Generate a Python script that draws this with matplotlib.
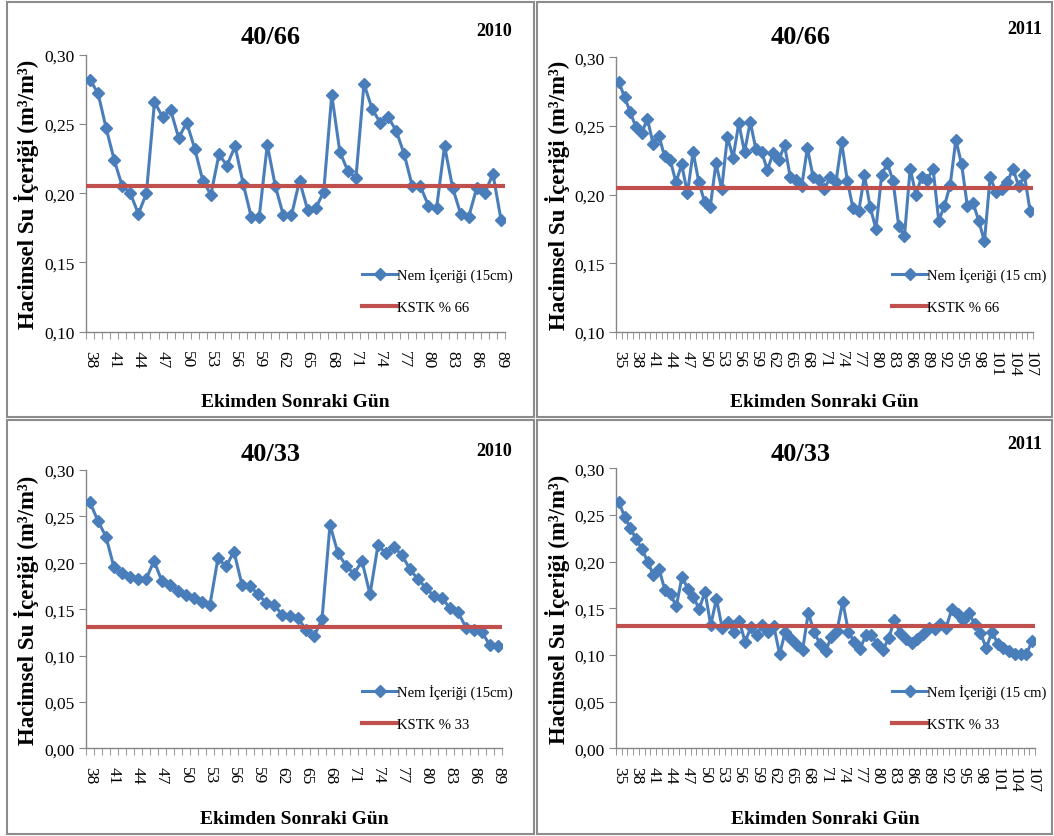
import numpy as np
import matplotlib
matplotlib.use('Agg')
import matplotlib.pyplot as plt
from matplotlib.patches import Rectangle

plt.rcParams['font.family'] = 'serif'
plt.rcParams['font.serif'] = ['Liberation Serif', 'DejaVu Serif']

# ekimden sonraki gunler
gun_2010 = np.arange(38, 90)
gun_2011 = np.arange(35, 108)

# hacimsel su icerigi (m3/m3), 15 cm
nem_2010_66 = [0.282, 0.272, 0.247, 0.224, 0.205, 0.200, 0.185, 0.200, 0.266, 0.255,
               0.260, 0.240, 0.251, 0.232, 0.209, 0.199, 0.228, 0.220, 0.234, 0.207,
               0.183, 0.183, 0.235, 0.205, 0.184, 0.184, 0.209, 0.188, 0.189, 0.201,
               0.271, 0.230, 0.216, 0.211, 0.279, 0.261, 0.251, 0.255, 0.245, 0.228,
               0.205, 0.205, 0.191, 0.189, 0.234, 0.204, 0.185, 0.183, 0.204, 0.200,
               0.214, 0.181]
nem_2011_66 = [0.282, 0.271, 0.260, 0.249, 0.245, 0.255, 0.237, 0.243, 0.228, 0.225,
               0.209, 0.222, 0.201, 0.231, 0.209, 0.195, 0.191, 0.223, 0.204, 0.242,
               0.227, 0.252, 0.231, 0.253, 0.233, 0.231, 0.218, 0.230, 0.225, 0.236,
               0.213, 0.211, 0.206, 0.234, 0.213, 0.211, 0.204, 0.213, 0.209, 0.238,
               0.210, 0.190, 0.188, 0.214, 0.191, 0.175, 0.214, 0.223, 0.210, 0.177,
               0.170, 0.219, 0.200, 0.213, 0.211, 0.219, 0.181, 0.192, 0.207, 0.240,
               0.222, 0.192, 0.194, 0.181, 0.166, 0.213, 0.202, 0.204, 0.209, 0.219,
               0.206, 0.214, 0.188]
nem_2010_33 = [0.265, 0.245, 0.228, 0.195, 0.189, 0.185, 0.182, 0.182, 0.202, 0.180,
               0.176, 0.170, 0.165, 0.162, 0.158, 0.155, 0.205, 0.196, 0.212, 0.176,
               0.175, 0.166, 0.157, 0.155, 0.144, 0.143, 0.140, 0.128, 0.121, 0.139,
               0.241, 0.210, 0.197, 0.188, 0.202, 0.166, 0.219, 0.210, 0.217, 0.208,
               0.193, 0.182, 0.173, 0.164, 0.162, 0.151, 0.147, 0.130, 0.127, 0.125,
               0.111, 0.110]
nem_2011_33 = [0.264, 0.248, 0.236, 0.224, 0.214, 0.200, 0.186, 0.192, 0.170, 0.165,
               0.152, 0.184, 0.171, 0.162, 0.149, 0.168, 0.132, 0.160, 0.129, 0.135,
               0.125, 0.136, 0.114, 0.130, 0.121, 0.132, 0.125, 0.131, 0.101, 0.125,
               0.117, 0.111, 0.105, 0.145, 0.125, 0.112, 0.104, 0.119, 0.126, 0.157,
               0.125, 0.114, 0.106, 0.121, 0.121, 0.112, 0.105, 0.118, 0.137, 0.124,
               0.117, 0.113, 0.117, 0.123, 0.129, 0.128, 0.133, 0.129, 0.149, 0.144,
               0.137, 0.145, 0.133, 0.124, 0.107, 0.125, 0.112, 0.107, 0.104, 0.101,
               0.101, 0.101, 0.115]

# kullanilabilir su tutma kapasitesi esikleri
kstk_66 = 0.205
kstk_33 = 0.131

MAVI = '#4a7ebb'
KIRMIZI = '#c0504d'
GRI = '#868686'

W, H = 1054, 837


def fx(px):
    return px / W


def fy(py):
    return 1 - py / H


paneller = [
    dict(gun=gun_2010, nem=nem_2010_66, kstk=kstk_66, baslik='40/66', yil='2010',
         kstk_ad='KSTK % 66', nem_ad='Nem İçeriği (15cm)', ylim=(0.10, 0.30),
         kutu=(86, 55.7, 505, 332.7), ox=0, oy=0, yil_y=31),
    dict(gun=gun_2011, nem=nem_2011_66, kstk=kstk_66, baslik='40/66', yil='2011',
         kstk_ad='KSTK % 66', nem_ad='Nem İçeriği (15 cm)', ylim=(0.10, 0.30),
         kutu=(616, 58.3, 1033, 333), ox=530, oy=0, yil_y=30),
    dict(gun=gun_2010, nem=nem_2010_33, kstk=kstk_33, baslik='40/33', yil='2010',
         kstk_ad='KSTK % 33', nem_ad='Nem İçeriği (15cm)', ylim=(0.0, 0.30),
         kutu=(86, 471, 502, 749.3), ox=0, oy=417, yil_y=35),
    dict(gun=gun_2011, nem=nem_2011_33, kstk=kstk_33, baslik='40/33', yil='2011',
         kstk_ad='KSTK % 33', nem_ad='Nem İçeriği (15 cm)', ylim=(0.0, 0.30),
         kutu=(616, 469.3, 1035, 749.3), ox=530, oy=417, yil_y=28),
]

fig = plt.figure(figsize=(W / 100, H / 100), dpi=100)

# panel cerceveleri
for x0, y0, x1, y1 in [(7, 3, 534, 418), (537, 3, 1052, 418),
                       (7, 421, 534, 835), (537, 421, 1052, 835)]:
    fig.add_artist(Rectangle((fx(x0), fy(y1)), (x1 - x0) / W, (y1 - y0) / H,
                             transform=fig.transFigure, fill=False,
                             ec='#8c8c8c', lw=1.5))

for p in paneller:
    l, t, r, b = p['kutu']
    ax = fig.add_axes([fx(l), fy(b), (r - l) / W, (b - t) / H])
    gun = p['gun']
    ax.plot(gun, p['nem'], color=MAVI, lw=2.2, marker='D', ms=6.5,
            label=p['nem_ad'], zorder=3)
    ax.axhline(p['kstk'], color=KIRMIZI, lw=3, label=p['kstk_ad'], zorder=4)

    ax.set_xlim(gun[0] - 0.5, gun[-1] + 0.5)
    ax.set_ylim(*p['ylim'])
    yt = np.arange(p['ylim'][0], 0.3001, 0.05)
    ax.set_yticks(yt)
    ax.set_yticklabels([f'{v:.2f}'.replace('.', ',') for v in yt])
    ax.set_xticks(gun[::3])
    ax.set_xticklabels([str(g) for g in gun[::3]], rotation=-90)
    ax.set_xticks(np.arange(gun[0] - 0.5, gun[-1] + 1), minor=True)

    for s in ['top', 'right']:
        ax.spines[s].set_visible(False)
    for s in ['left', 'bottom']:
        ax.spines[s].set_color(GRI)
        ax.spines[s].set_linewidth(1)
    ax.tick_params(axis='y', length=5, color=GRI, labelsize=12.5, pad=3)
    ax.tick_params(axis='x', which='major', length=0, labelsize=12.5, pad=13)
    ax.tick_params(axis='x', which='minor', length=5, color=GRI)

    ox, oy = p['ox'], p['oy']
    ax.legend(loc='upper left', bbox_to_anchor=(fx(ox + 362), fy(oy + 268)),
              bbox_transform=fig.transFigure, frameon=False, fontsize=10.5,
              handlelength=2.4, handletextpad=0.0, labelspacing=1.3,
              borderpad=0, borderaxespad=0)

    fig.text(fx(ox + 271), fy(oy + 38), p['baslik'], ha='center', va='center',
             fontsize=19, fontweight='bold')
    fig.text(fx(ox + 512), fy(oy + p['yil_y']), p['yil'], ha='right', va='center',
             fontsize=13, fontweight='bold')
    fig.text(fx(ox + 27), fy((t + b) / 2), 'Hacimsel Su İçeriği (m³/m³)',
             rotation=90, ha='center', va='center', fontsize=16.5, fontweight='bold')
    fig.text(fx((l + r) / 2), fy(oy + 403), 'Ekimden Sonraki Gün',
             ha='center', va='center', fontsize=14, fontweight='bold')

fig.savefig('out.png', dpi=100)
